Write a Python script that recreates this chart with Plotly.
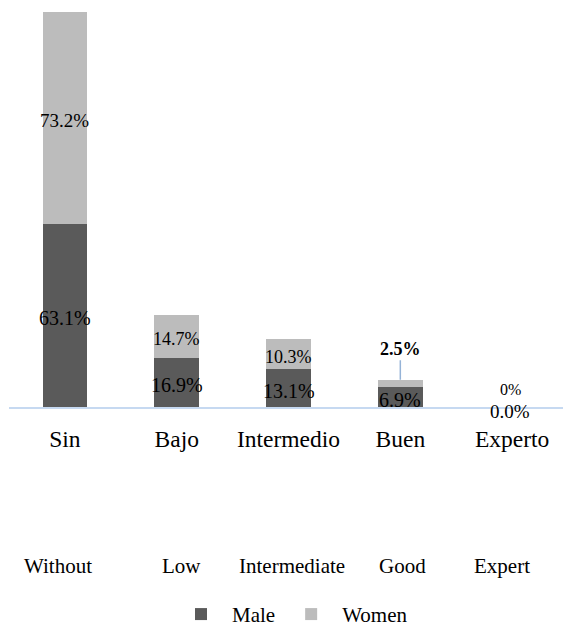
import plotly.graph_objects as go

categories = ["Sin", "Bajo", "Intermedio", "Buen", "Experto"]
english = ["Without", "Low", "Intermediate", "Good", "Expert"]
male = [63.1, 16.9, 13.1, 6.9, 0.0]
women = [73.2, 14.7, 10.3, 2.5, 0.0]
male_labels = ["63.1%", "16.9%", "13.1%", "6.9%", "0.0%"]
women_labels = ["73.2%", "14.7%", "10.3%", "2.5%", "0%"]

FONT = "Liberation Serif"
MALE_C = "#5a5a5a"
WOMEN_C = "#bcbcbc"
AXIS_C = "#c6d9f1"
LEADER_C = "#95b3d7"

L, T, B = 9, 12, 225
H = 635 - T - B          # plot height in px
W = 563 - L              # plot width in px

fig = go.Figure()
fig.add_bar(x=categories, y=male, name="Male", marker_color=MALE_C, marker_line_width=0)
fig.add_bar(x=categories, y=women, name="Women", marker_color=WOMEN_C, marker_line_width=0)

ann = []
for i, c in enumerate(categories):
    m, w = male[i], women[i]
    if m == 0 and w == 0:
        ann.append(dict(x=c, y=0, text=male_labels[i], showarrow=False, yshift=-4,
                        xshift=-2, font=dict(size=19, family=FONT, color="#000")))
        ann.append(dict(x=c, y=0, text=women_labels[i], showarrow=False, yshift=18,
                        xshift=-2, font=dict(size=16, family=FONT, color="#000")))
        continue
    ann.append(dict(x=c, y=m / 2, text=male_labels[i], showarrow=False, yshift=-2.5,
                    font=dict(size=20, family=FONT, color="#000")))
    if c == "Buen":
        ann.append(dict(x=c, y=m + w, text="<b>" + women_labels[i] + "</b>", showarrow=True,
                        arrowhead=0, arrowwidth=1.5, arrowcolor=LEADER_C, ax=0, ay=-31,
                        standoff=0, font=dict(size=18, family=FONT, color="#000")))
    else:
        ann.append(dict(x=c, y=m + w / 2, text=women_labels[i], showarrow=False, yshift=-2.5,
                        font=dict(size=19 if i == 0 else 18, family=FONT, color="#000")))

eng_x = [57.5, 181, 292, 402, 502]
for lbl, px in zip(english, eng_x):
    ann.append(dict(xref="paper", yref="paper", x=(px - L) / W, y=(410 - 570) / H,
                    text=lbl, showarrow=False, xanchor="center", yanchor="middle",
                    font=dict(size=21, family=FONT, color="#000")))

fig.update_layout(
    barmode="stack",
    bargap=0.6,
    width=563, height=635,
    margin=dict(l=L, r=0, t=T, b=B, pad=0),
    paper_bgcolor="white", plot_bgcolor="white",
    font=dict(family=FONT, color="#000"),
    showlegend=True,
    legend=dict(orientation="h", x=(170 - L) / W, xanchor="left", y=(410 - 619) / H,
                yanchor="middle", font=dict(size=21, family=FONT, color="#000"),
                itemwidth=52, traceorder="normal", bgcolor="rgba(0,0,0,0)"),
    annotations=ann,
    xaxis=dict(showline=True, linecolor=AXIS_C, linewidth=2, ticks="",
               range=[-0.5, 4.455], ticklabelstandoff=10,
               tickfont=dict(size=23.5, family=FONT, color="#000"), showgrid=False),
    yaxis=dict(range=[0, 136.3], visible=False, showgrid=False),
)

fig.write_html("out.html")
